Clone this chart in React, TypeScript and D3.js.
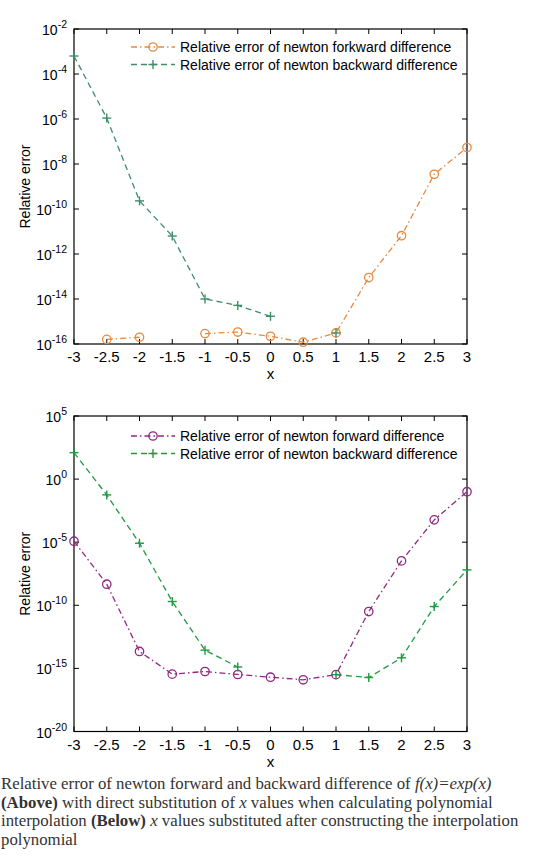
import React, { useRef, useEffect } from 'react';
import * as d3 from 'd3';

const xValues = [-3, -2.5, -2, -1.5, -1, -0.5, 0, 0.5, 1, 1.5, 2, 2.5, 3];
const xTicks = [-3, -2.5, -2, -1.5, -1, -0.5, 0, 0.5, 1, 1.5, 2, 2.5, 3];

// upper panel (direct substitution)
const topForward = [null, 1.6e-16, 2e-16, null, 2.9e-16, 3.4e-16, 2.2e-16, 1.2e-16, 3.1e-16, 9e-14, 6.5e-12, 3.5e-9, 5.4e-8];
const topBackward = [6.3e-4, 1.1e-6, 2.3e-10, 6.3e-12, 1e-14, 5.2e-15, 1.7e-15, null, 3.1e-16, null, null, null, null];
const topYTicks = [-16, -14, -12, -10, -8, -6, -4, -2];

// lower panel (substituted after construction)
const bottomForward = [1.2e-5, 4.7e-9, 2.2e-14, 3.5e-16, 5.7e-16, 3.3e-16, 2e-16, 1.25e-16, 3.2e-16, 3.2e-11, 3.3e-7, 5.9e-4, 0.1];
const bottomBackward = [125, 0.056, 8.3e-6, 2e-10, 2.8e-14, 1.3e-15, null, null, 3.2e-16, 1.9e-16, 6.9e-15, 8e-11, 6.4e-8];
const bottomYTicks = [-20, -15, -10, -5, 0, 5];

const topLegend = ['Relative error of newton forkward difference', 'Relative error of newton backward difference'];
const bottomLegend = ['Relative error of newton forward difference', 'Relative error of newton backward difference'];

const AXIS_FONT = '"Liberation Sans", Arial, sans-serif';
const SERIF = '"Liberation Serif", "Times New Roman", serif';

type Panel = {
  top: number;
  bottom: number;
  yMin: number;
  yMax: number;
  yTicks: number[];
  forward: (number | null)[];
  backward: (number | null)[];
  fwdColor: string;
  bwdColor: string;
  legend: string[];
  legendY: number;
};

function drawPanel(svg: d3.Selection<SVGSVGElement, unknown, null, undefined>, p: Panel) {
  const left = 74;
  const right = 467;
  const x = d3.scaleLinear().domain([-3, 3]).range([left, right]);
  const y = d3.scaleLog().domain([Math.pow(10, p.yMin), Math.pow(10, p.yMax)]).range([p.bottom, p.top]);
  const g = svg.append('g');

  // frame
  g.append('rect')
    .attr('x', left)
    .attr('y', p.top)
    .attr('width', right - left)
    .attr('height', p.bottom - p.top)
    .attr('fill', 'none')
    .attr('stroke', '#000')
    .attr('stroke-width', 1.2);

  // inward ticks on all sides
  const tickLen = 5;
  xTicks.forEach((t) => {
    g.append('line').attr('x1', x(t)).attr('x2', x(t)).attr('y1', p.bottom).attr('y2', p.bottom - tickLen).attr('stroke', '#000');
    g.append('line').attr('x1', x(t)).attr('x2', x(t)).attr('y1', p.top).attr('y2', p.top + tickLen).attr('stroke', '#000');
  });
  p.yTicks.forEach((e) => {
    const yy = y(Math.pow(10, e));
    g.append('line').attr('x1', left).attr('x2', left + tickLen).attr('y1', yy).attr('y2', yy).attr('stroke', '#000');
    g.append('line').attr('x1', right).attr('x2', right - tickLen).attr('y1', yy).attr('y2', yy).attr('stroke', '#000');
  });

  // x tick labels
  g.selectAll('.xl')
    .data(xTicks)
    .enter()
    .append('text')
    .attr('x', (d) => x(d))
    .attr('y', p.bottom + 18)
    .attr('text-anchor', 'middle')
    .style('font-family', AXIS_FONT)
    .style('font-size', '15px')
    .text((d) => String(d));

  // y tick labels 10^e
  p.yTicks.forEach((e) => {
    const t = g.append('text')
      .attr('x', left - 7)
      .attr('y', y(Math.pow(10, e)) + 6)
      .attr('text-anchor', 'end')
      .style('font-family', AXIS_FONT)
      .style('font-size', '14px');
    t.append('tspan').text('10');
    t.append('tspan').attr('dy', -7).style('font-size', '10.5px').text(String(e));
  });

  // axis titles
  g.append('text')
    .attr('x', (left + right) / 2)
    .attr('y', p.bottom + 35)
    .attr('text-anchor', 'middle')
    .style('font-family', AXIS_FONT)
    .style('font-size', '15px')
    .text('x');
  g.append('text')
    .attr('transform', `translate(30, ${(p.top + p.bottom) / 2}) rotate(-90)`)
    .attr('text-anchor', 'middle')
    .style('font-family', AXIS_FONT)
    .style('font-size', '14px')
    .text('Relative error');

  const line = d3
    .line<number | null>()
    .defined((d) => d != null)
    .x((_, i) => x(xValues[i]))
    .y((d) => y(d as number));

  const series = [
    { data: p.forward, color: p.fwdColor, dash: '6,3,1.5,3', marker: 'circle' },
    { data: p.backward, color: p.bwdColor, dash: '6,4', marker: 'plus' },
  ];

  series.forEach((s) => {
    g.append('path')
      .attr('d', line(s.data))
      .attr('fill', 'none')
      .attr('stroke', s.color)
      .attr('stroke-width', 1.3)
      .attr('stroke-dasharray', s.dash);
  });

  const drawMarker = (sel: d3.Selection<SVGGElement, unknown, null, undefined>, cx: number, cy: number, kind: string, color: string) => {
    if (kind === 'circle') {
      sel.append('circle').attr('cx', cx).attr('cy', cy).attr('r', 4.2).attr('fill', 'none').attr('stroke', color).attr('stroke-width', 1.3);
    } else {
      sel.append('line').attr('x1', cx - 4.5).attr('x2', cx + 4.5).attr('y1', cy).attr('y2', cy).attr('stroke', color).attr('stroke-width', 1.4);
      sel.append('line').attr('x1', cx).attr('x2', cx).attr('y1', cy - 4.5).attr('y2', cy + 4.5).attr('stroke', color).attr('stroke-width', 1.4);
    }
  };

  series.forEach((s) => {
    s.data.forEach((d, i) => {
      if (d == null) return;
      drawMarker(g, x(xValues[i]), y(d), s.marker, s.color);
    });
  });

  // legend
  series.forEach((s, i) => {
    const ly = p.legendY + i * 17.5;
    g.append('line')
      .attr('x1', 131)
      .attr('x2', 175)
      .attr('y1', ly)
      .attr('y2', ly)
      .attr('stroke', s.color)
      .attr('stroke-width', 1.3)
      .attr('stroke-dasharray', s.dash);
    drawMarker(g, 153, ly, s.marker, s.color);
    g.append('text')
      .attr('x', 180)
      .attr('y', ly + 5)
      .style('font-family', AXIS_FONT)
      .style('font-size', '14px')
      .text(p.legend[i]);
  });
}

const App: React.FC = () => {
  const svgRef = useRef<SVGSVGElement>(null);

  useEffect(() => {
    if (!svgRef.current) return;
    const svg = d3.select(svgRef.current);
    svg.selectAll('*').remove();

    drawPanel(svg, {
      top: 29,
      bottom: 344,
      yMin: -16,
      yMax: -2,
      yTicks: topYTicks,
      forward: topForward,
      backward: topBackward,
      fwdColor: '#E8893E',
      bwdColor: '#3E8E6A',
      legend: topLegend,
      legendY: 47,
    });
    drawPanel(svg, {
      top: 416,
      bottom: 731.5,
      yMin: -20,
      yMax: 5,
      yTicks: bottomYTicks,
      forward: bottomForward,
      backward: bottomBackward,
      fwdColor: '#8E2A82',
      bwdColor: '#1E9A40',
      legend: bottomLegend,
      legendY: 436,
    });

    // caption
    const cap = svg.append('text')
      .style('font-family', SERIF)
      .style('font-size', '16.8px')
      .attr('fill', '#333');
    const lines: [string, string][][] = [
      [['Relative error of newton forward and backward difference of ', 'n'], ['f(x)=exp(x)', 'i']],
      [['(Above)', 'b'], [' with direct substitution of ', 'n'], ['x', 'i'], [' values when calculating polynomial', 'n']],
      [['interpolation ', 'n'], ['(Below)', 'b'], [' ', 'n'], ['x', 'i'], [' values substituted after constructing the interpolation', 'n']],
      [['polynomial', 'n']],
    ];
    lines.forEach((parts, li) => {
      parts.forEach(([txt, st], pi) => {
        const ts = cap.append('tspan').text(txt);
        if (pi === 0) ts.attr('x', 1).attr('y', 789 + li * 18.7);
        if (st === 'b') ts.style('font-weight', 'bold');
        if (st === 'i') ts.style('font-style', 'italic');
      });
    });
  }, []);

  return (
    <svg
      ref={svgRef}
      width={540}
      height={860}
      style={{ position: 'absolute', left: 0, top: 0, background: '#fff' }}
    />
  );
};

export default App;
